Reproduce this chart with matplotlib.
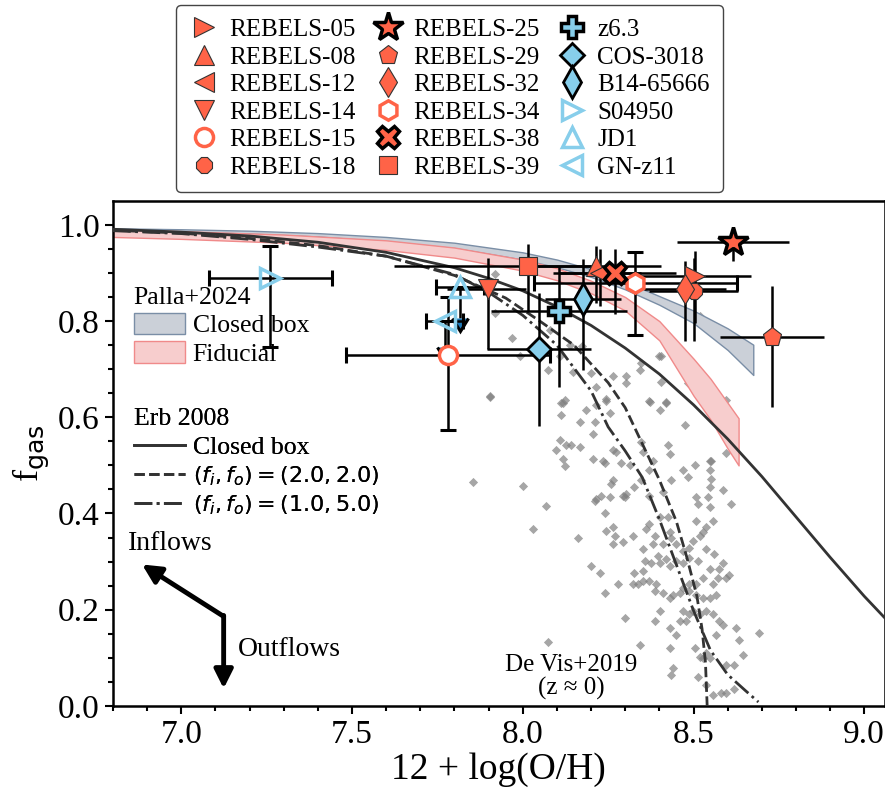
import numpy as np
import matplotlib.pyplot as plt
from matplotlib.lines import Line2D
from matplotlib.patches import Patch

plt.rcParams['font.family'] = ['Liberation Serif', 'DejaVu Serif']
plt.rcParams['mathtext.fontset'] = 'dejavusans'

# --- REBELS sample: 12+log(O/H), f_gas and asymmetric errors (lo, hi)
reb_names = ['REBELS-05', 'REBELS-08', 'REBELS-12', 'REBELS-14', 'REBELS-15', 'REBELS-18',
             'REBELS-25', 'REBELS-29', 'REBELS-32', 'REBELS-34', 'REBELS-38', 'REBELS-39']
reb_oh = [8.503, 8.215, 8.225, 7.899, 7.781, 8.501, 8.615, 8.729, 8.474, 8.329, 8.269, 8.014]
reb_fgas = [0.894, 0.914, 0.901, 0.866, 0.730, 0.863, 0.964, 0.768, 0.866, 0.880, 0.901, 0.914]
reb_oh_lo = [0.165, 0.19, 0.12, 0.12, 0.30, 0.13, 0.164, 0.151, 0.12, 0.297, 0.18, 0.39]
reb_oh_hi = [0.165, 0.19, 0.12, 0.11, 0.30, 0.13, 0.164, 0.152, 0.12, 0.297, 0.18, 0.19]
reb_f_lo = [0.098, 0.076, 0.070, 0.125, 0.157, 0.105, 0.040, 0.147, 0.108, 0.108, 0.087, 0.093]
reb_f_hi = [0.052, 0.043, 0.049, 0.065, 0.120, 0.069, 0.020, 0.105, 0.059, 0.063, 0.049, 0.046]

# --- other high-z galaxies
hz_names = ['z6.3', 'COS-3018', 'B14-65666', 'S04950', 'JD1', 'GN-z11']
hz_oh = [8.106, 8.047, 8.177, 7.26, 7.816, 7.772]
hz_fgas = [0.821, 0.741, 0.845, 0.889, 0.870, 0.801]
hz_oh_err = [0.20, 0.152, 0.112, 0.18, 0.07, 0.054]
hz_f_lo = [0.157, 0.160, 0.146, 0.142, 0.063, 0.055]
hz_f_hi = [0.094, 0.118, 0.084, 0.068, 0.0, 0.0]

# --- De Vis+2019 local galaxies
dv_oh = [7.905, 8.123, 8.113, 8.113, 8.186, 8.215, 8.245, 8.254, 8.211, 8.206, 8.167, 8.108,
         8.096, 8.128, 8.142, 8.167, 8.118, 8.123, 8.206, 8.235, 8.240, 8.264, 8.274, 8.288,
         8.313, 8.347, 8.352, 8.371, 8.401, 8.420, 8.425, 8.430, 8.381, 8.371, 8.347, 8.327,
         8.303, 8.264, 8.259, 8.254, 8.230, 8.215, 8.211, 8.240, 8.293, 8.298, 8.371, 8.410,
         8.435, 8.474, 8.483, 8.405, 8.303, 8.469, 8.483, 8.503, 8.547, 8.547, 8.552, 8.547,
         8.542, 8.586, 8.610, 8.508, 8.513, 8.547, 8.508, 8.537, 8.556, 8.527, 8.518, 8.498,
         8.488, 8.469, 8.449, 8.435, 8.430, 8.425, 8.401, 8.371, 8.362, 8.386, 8.410, 8.381,
         8.352, 8.323, 8.293, 8.264, 8.269, 8.264, 8.245, 8.162, 8.069, 8.030, 8.001, 7.853,
         8.201, 8.225, 8.240, 8.279, 8.298, 8.323, 8.337, 8.327, 8.352, 8.357, 8.376, 8.396,
         8.401, 8.420, 8.430, 8.449, 8.469, 8.488, 8.513, 8.537, 8.561, 8.586, 8.576, 8.547,
         8.527, 8.508, 8.488, 8.469, 8.459, 8.440, 8.430, 8.410, 8.386, 8.391, 8.371, 8.352,
         8.488, 8.508, 8.527, 8.547, 8.566, 8.556, 8.571, 8.595, 8.605, 8.556, 8.576, 8.566,
         8.586, 8.625, 8.634, 8.693, 8.537, 8.518, 8.498, 8.488, 8.469, 8.478, 8.459, 8.449,
         8.430, 8.401, 8.386, 8.430, 8.503, 8.518, 8.527, 8.537, 8.547, 8.644, 8.620, 8.596,
         8.513, 8.440, 8.435, 8.537, 8.556, 8.581, 8.596, 8.620, 8.342, 8.074,
         7.918, 7.918, 7.967, 7.991, 8.074, 8.079, 8.108, 8.138, 8.147, 8.172, 8.201, 8.215,
         8.245, 8.264, 8.303, 8.347, 8.342, 8.406, 8.372, 8.420, 8.479, 8.503, 8.518, 7.904,
         8.118, 8.400, 8.594, 8.594, 8.550]
dv_fgas = [0.644, 0.636, 0.629, 0.605, 0.616, 0.626, 0.633, 0.608, 0.591, 0.566, 0.591, 0.552,
           0.531, 0.542, 0.542, 0.538, 0.514, 0.498, 0.514, 0.510, 0.504, 0.531, 0.528, 0.504,
           0.500, 0.549, 0.528, 0.633, 0.615, 0.630, 0.542, 0.524, 0.510, 0.490, 0.469, 0.455,
           0.441, 0.469, 0.462, 0.434, 0.437, 0.430, 0.427, 0.402, 0.437, 0.434, 0.437, 0.444,
           0.469, 0.584, 0.671, 0.674, 0.671, 0.490, 0.476, 0.500, 0.510, 0.490, 0.472, 0.455,
           0.434, 0.448, 0.420, 0.434, 0.420, 0.413, 0.385, 0.371, 0.385, 0.361, 0.354, 0.343,
           0.329, 0.322, 0.336, 0.350, 0.361, 0.392, 0.392, 0.378, 0.367, 0.354, 0.336, 0.336,
           0.326, 0.354, 0.340, 0.371, 0.354, 0.336, 0.364, 0.350, 0.416, 0.367, 0.458, 0.465,
           0.291, 0.277, 0.235, 0.253, 0.183, 0.253, 0.253, 0.277, 0.280, 0.301, 0.298, 0.312,
           0.298, 0.305, 0.291, 0.301, 0.298, 0.308, 0.301, 0.326, 0.315, 0.298, 0.284, 0.284,
           0.266, 0.253, 0.253, 0.245, 0.235, 0.231, 0.224, 0.235, 0.238, 0.253, 0.259, 0.259,
           0.238, 0.231, 0.224, 0.224, 0.231, 0.253, 0.266, 0.266, 0.273, 0.190, 0.176, 0.148,
           0.169, 0.162, 0.137, 0.151, 0.197, 0.190, 0.197, 0.190, 0.197, 0.176, 0.176, 0.148,
           0.162, 0.197, 0.176, 0.120, 0.120, 0.102, 0.099, 0.109, 0.099, 0.106, 0.085, 0.085,
           0.061, 0.078, 0.064, 0.043, 0.022, 0.026, 0.026, 0.036, 0.127, 0.132,
           0.898, 0.817, 0.765, 0.727, 0.699, 0.782, 0.727, 0.751, 0.695, 0.748, 0.692, 0.664,
           0.639, 0.685, 0.685, 0.713, 0.699, 0.727, 0.632, 0.632, 0.695, 0.699, 0.810, 0.643,
           0.629, 0.727, 0.635, 0.525, 0.510]

# --- Erb (2008) models
erb_cb_oh = [6.8, 7.0, 7.2, 7.4, 7.6, 7.8, 7.9, 8.0, 8.1, 8.2, 8.3, 8.4, 8.5, 8.6, 8.7,
             8.8, 8.9, 9.0, 9.06]
erb_cb_f = [0.991, 0.985, 0.977, 0.964, 0.943, 0.911, 0.889, 0.863, 0.830, 0.791, 0.744,
            0.690, 0.626, 0.555, 0.477, 0.393, 0.309, 0.228, 0.183]
erb_22_oh = [6.8, 7.0, 7.2, 7.4, 7.6, 7.8, 7.95, 8.05, 8.15, 8.25, 8.3, 8.35, 8.4, 8.45,
             8.48, 8.51, 8.525, 8.535, 8.54]
erb_22_f = [0.989, 0.983, 0.972, 0.957, 0.935, 0.895, 0.848, 0.800, 0.750, 0.672, 0.620,
            0.545, 0.470, 0.383, 0.310, 0.228, 0.160, 0.090, 0.0]
erb_15_oh = [6.8, 7.0, 7.2, 7.4, 7.6, 7.8, 7.9, 8.0, 8.1, 8.2, 8.25, 8.3, 8.35, 8.4, 8.45,
             8.5, 8.55, 8.6, 8.65, 8.69]
erb_15_f = [0.988, 0.982, 0.970, 0.954, 0.935, 0.897, 0.860, 0.812, 0.750, 0.655, 0.580,
            0.530, 0.475, 0.388, 0.293, 0.198, 0.115, 0.065, 0.033, 0.008]

# --- Palla+2024 model bands
pcb_oh = [6.8, 7.0, 7.2, 7.4, 7.6, 7.8, 8.0, 8.1, 8.2, 8.3, 8.4, 8.5, 8.6, 8.675]
pcb_hi = [0.993, 0.991, 0.988, 0.983, 0.975, 0.963, 0.943, 0.928, 0.908, 0.882, 0.852,
          0.822, 0.785, 0.751]
pcb_lo = [0.989, 0.986, 0.982, 0.976, 0.966, 0.952, 0.928, 0.912, 0.892, 0.866, 0.834,
          0.796, 0.740, 0.688]
pfid_oh = [6.8, 7.0, 7.3, 7.6, 7.8, 8.0, 8.1, 8.2, 8.3, 8.4, 8.5, 8.55, 8.6, 8.632]
pfid_hi = [0.990, 0.987, 0.980, 0.968, 0.953, 0.928, 0.910, 0.884, 0.850, 0.800, 0.722,
           0.680, 0.630, 0.598]
pfid_lo = [0.975, 0.971, 0.963, 0.948, 0.932, 0.905, 0.885, 0.858, 0.822, 0.760, 0.645,
           0.595, 0.535, 0.500]

red = 'tomato'
blue = 'skyblue'

fig = plt.figure(figsize=(8.85, 7.94), dpi=100)
ax = fig.add_axes([0.1277, 0.111, 0.872, 0.636])

ax.scatter(dv_oh, dv_fgas, marker='D', s=22, color='gray', alpha=0.7, lw=0, zorder=1)

ax.fill_between(pcb_oh, pcb_lo, pcb_hi, facecolor='#cbd0d8', edgecolor='#7a8ea6', lw=1, zorder=2)
ax.fill_between(pfid_oh, pfid_lo, pfid_hi, facecolor='#f7cdcd', edgecolor='#f08a8a', lw=1, zorder=2)

ax.plot(erb_cb_oh, erb_cb_f, color='#333333', lw=2, ls='-', zorder=3)
ax.plot(erb_22_oh, erb_22_f, color='#333333', lw=2, ls='--', zorder=3)
ax.plot(erb_15_oh, erb_15_f, color='#333333', lw=2, ls='-.', zorder=3)

# REBELS markers
reb_style = {
    'REBELS-05': dict(marker='>', ms=14),
    'REBELS-08': dict(marker='^', ms=14),
    'REBELS-12': dict(marker='<', ms=14),
    'REBELS-14': dict(marker='v', ms=14),
    'REBELS-15': dict(marker='o', ms=13, mfc='white', mec=red, mew=2.5),
    'REBELS-18': dict(marker='8', ms=13),
    'REBELS-25': dict(marker='*', ms=22, mec='k', mew=2.5),
    'REBELS-29': dict(marker='p', ms=14),
    'REBELS-32': dict(marker='d', ms=15),
    'REBELS-34': dict(marker='h', ms=14, mfc='white', mec=red, mew=2.5),
    'REBELS-38': dict(marker='X', ms=16, mec='k', mew=2.5),
    'REBELS-39': dict(marker='s', ms=13),
}
handles = []
for i, name in enumerate(reb_names):
    st = dict(mfc=red, mec='#333333', mew=0.8)
    st.update(reb_style[name])
    caps = 6 if st['mfc'] == 'white' else 0
    ax.errorbar(reb_oh[i], reb_fgas[i],
                xerr=[[reb_oh_lo[i]], [reb_oh_hi[i]]],
                yerr=[[reb_f_lo[i]], [reb_f_hi[i]]],
                fmt='none', ecolor='k', elinewidth=1.8, capsize=caps, capthick=2.2, zorder=4)
    h, = ax.plot(reb_oh[i], reb_fgas[i], ls='none', label=name, zorder=6, **st)
    handles.append(h)

hz_style = {
    'z6.3': dict(marker='P', ms=16, mfc=blue, mec='k', mew=2.5),
    'COS-3018': dict(marker='D', ms=12, mfc=blue, mec='k', mew=2.0),
    'B14-65666': dict(marker='d', ms=16, mfc=blue, mec='k', mew=2.0),
    'S04950': dict(marker='>', ms=14, mfc='none', mec=blue, mew=2.5),
    'JD1': dict(marker='^', ms=14, mfc='none', mec=blue, mew=2.5),
    'GN-z11': dict(marker='<', ms=14, mfc='none', mec=blue, mew=2.5),
}
for i, name in enumerate(hz_names):
    st = hz_style[name]
    caps = 6 if st['mfc'] == 'none' else 0
    lim = name in ('JD1', 'GN-z11')
    ax.errorbar(hz_oh[i], hz_fgas[i], xerr=hz_oh_err[i],
                yerr=[[hz_f_lo[i]], [hz_f_hi[i]]], uplims=lim,
                fmt='none', ecolor='k', elinewidth=1.8, capsize=caps, capthick=2.2, zorder=4)
    h, = ax.plot(hz_oh[i], hz_fgas[i], ls='none', label=name, zorder=6, **st)
    handles.append(h)

# inflow / outflow arrows
ax.annotate('', xy=(6.885, 0.294), xytext=(7.124, 0.186),
            arrowprops=dict(arrowstyle='-|>', lw=3.5, color='k', mutation_scale=28,
                            shrinkA=0, shrinkB=0))
ax.annotate('', xy=(7.124, 0.036), xytext=(7.124, 0.188),
            arrowprops=dict(arrowstyle='-|>', lw=3.5, color='k', mutation_scale=28,
                            shrinkA=0, shrinkB=0))
ax.text(6.845, 0.337, 'Inflows', fontsize=20, va='center')
ax.text(7.167, 0.117, 'Outflows', fontsize=20, va='center')
ax.text(8.143, 0.086, 'De Vis+2019', fontsize=18, ha='center', va='center')
ax.text(8.143, 0.037, '(z \u2248 0)', fontsize=18, ha='center', va='center')

# model legends inside the axes
leg1 = ax.legend(handles=[Patch(facecolor='#cbd0d8', edgecolor='#7a8ea6', label='Closed box'),
                          Patch(facecolor='#f7cdcd', edgecolor='#f08a8a', label='Fiducial')],
                 title='Palla+2024', loc='upper left', bbox_to_anchor=(0.0, 0.87),
                 frameon=False, fontsize=18.5, title_fontsize=18.5, alignment='left',
                 handlelength=2.0, handleheight=0.9, labelspacing=0.15, handletextpad=0.3,
                 borderpad=0.3)
ax.add_artist(leg1)
leg2 = ax.legend(handles=[Line2D([], [], color='#333333', lw=2, ls='-', label='Closed box'),
                          Line2D([], [], color='#333333', lw=2, ls='--',
                                 label=r'$(f_i, f_o) = (2.0, 2.0)$'),
                          Line2D([], [], color='#333333', lw=2, ls='-.',
                                 label=r'$(f_i, f_o) = (1.0, 5.0)$')],
                 title='Erb 2008', loc='upper left', bbox_to_anchor=(0.0, 0.63),
                 frameon=False, fontsize=18.5, title_fontsize=18.5, alignment='left',
                 handlelength=2.0, labelspacing=0.22, handletextpad=0.3, borderpad=0.3)
for t in leg2.get_texts()[1:]:
    t.set_fontsize(16)
ax.add_artist(leg2)

fig.legend(handles=handles, ncol=3, loc='upper center', bbox_to_anchor=(0.508, 0.994),
           borderaxespad=0, fontsize=18, frameon=True, fancybox=True, edgecolor='#444444',
           framealpha=1, labelspacing=0.2, columnspacing=0.7, handletextpad=0.4,
           handlelength=1.2, borderpad=0.55)

ax.set_xlim(6.8, 9.06)
ax.set_ylim(0.0, 1.05)
ax.set_xticks([7.0, 7.5, 8.0, 8.5, 9.0])
ax.set_yticks([0.0, 0.2, 0.4, 0.6, 0.8, 1.0])
ax.set_xticks(np.arange(6.8, 9.06, 0.1), minor=True)
ax.set_yticks(np.arange(0.0, 1.05, 0.05), minor=True)
ax.tick_params(which='both', direction='out', width=1.5, labelsize=24)
ax.tick_params(which='major', length=6)
ax.tick_params(which='minor', length=3.5)
for sp in ax.spines.values():
    sp.set_linewidth(1.8)

ax.set_xlabel('12 + log(O/H)', fontsize=27, labelpad=2)
ax.set_ylabel(r'f$_{\rm gas}$', fontsize=26)

fig.savefig('out.png', dpi=100)
